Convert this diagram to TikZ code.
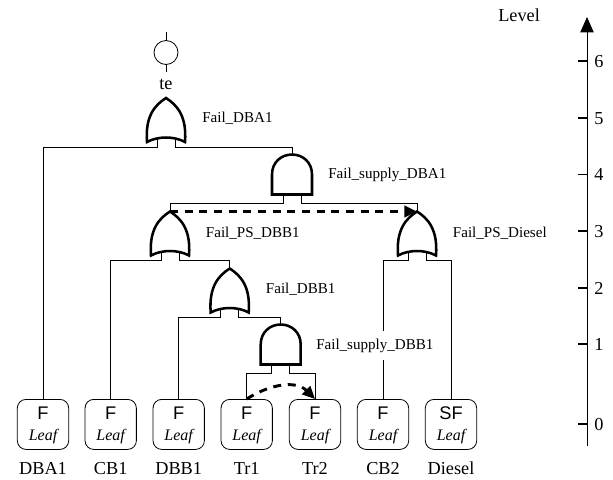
\documentclass[tikz,border=0pt]{standalone}
\usepackage{fontspec}
\setmainfont{Liberation Serif}
\setsansfont{Liberation Sans}
\usetikzlibrary{arrows.meta}
\tikzset{
	gateline/.style={line width=1.9pt},
	wire/.style={line width=0.6pt},
	leafbox/.style={draw,line width=0.6pt,rounded corners=6.5pt,minimum width=38.5pt,minimum height=37.5pt,inner sep=0pt,anchor=north},
	gatename/.style={font=\fontsize{11.3}{13}\selectfont,anchor=base west,fill=white,inner sep=0pt,minimum height=22pt},
	bigtext/.style={font=\fontsize{13.7}{16}\selectfont,inner sep=0pt,anchor=base},
	orgate/.pic={
		\draw[gateline,line join=miter] (0,0) .. controls (-11,7) and (-21,18) .. (-19,44) .. controls (-8,38) and (8,38) .. (19,44) .. controls (21,18) and (11,7) .. cycle;
		\coordinate (-top) at (0,0);
		\coordinate (-l) at (-9,40);
		\coordinate (-r) at (9,40);
	},
	andgate/.pic={
		\draw[gateline] (-20,40) -- (-20,20) .. controls (-20,8) and (-11,0) .. (0,0) .. controls (11,0) and (20,8) .. (20,20) -- (20,40) -- cycle;
		\coordinate (-top) at (0,0);
		\coordinate (-l) at (-9,40);
		\coordinate (-r) at (9,40);
	}
}
\begin{document}
\begin{tikzpicture}[x=0.75pt,y=-0.75pt]
	\useasboundingbox (0,0) rectangle (613,479);
	% top event
	\node[draw,circle,wire,minimum size=18pt,inner sep=0pt] (te) at (166,52.5) {};
	\draw[wire] (te.north) -- ++(0,-8);
	\draw[wire] (te.south) -- ++(0,7);
	\node[bigtext] (tename) at (166,89) {te};
	% gates
	\pic (dba) at (166,98) {orgate};
	\pic (sdba) at (292,154.5) {andgate};
	\pic (psdbb) at (170,211.5) {orgate};
	\pic (pdiesel) at (417,211.5) {orgate};
	\pic (dbb) at (229.7,268.5) {orgate};
	\pic (sdbb) at (280.7,324.5) {andgate};
	% leaves
	\foreach \name/\x/\kind/\text in {dba1/43/F/DBA1,cb1/110.7/F/CB1,dbb1/178.7/F/DBB1,tr1/246.7/F/Tr1,tr2/315/F/Tr2,cb2/383/F/CB2,diesel/451/SF/Diesel}{
		\node[leafbox] (\name) at (\x,399) {};
		\node[font=\sffamily\fontsize{13.7}{16}\selectfont,inner sep=0pt,anchor=base] (\name kind) at (\x,419) {\kind};
		\node[font=\itshape\fontsize{12}{14}\selectfont,inner sep=0pt,anchor=base] (\name type) at (\x,440.5) {Leaf};
		\node[bigtext] (\name text) at (\x,474) {\text};
	}
	% wires
	\draw[wire] (dba-l) -- ++(0,9) -| (dba1.north);
	\draw[wire] (dba-r) -- ++(0,9) -| (sdba-top);
	\draw[wire] (sdba-l) -- ++(0,9) -| (psdbb-top);
	\draw[wire] (sdba-r) -- ++(0,9) -| (pdiesel-top);
	\draw[wire] (psdbb-l) -- ++(0,9) -| (cb1.north);
	\draw[wire] (psdbb-r) -- ++(0,9) -| (dbb-top);
	\draw[wire] (dbb-l) -- ++(0,9) -| (dbb1.north);
	\draw[wire] (dbb-r) -- ++(0,9) -| (sdbb-top);
	\draw[wire] (sdbb-l) -- ++(0,9) -| (tr1.north);
	\draw[wire] (sdbb-r) -- ++(0,9) -| (tr2.north);
	\draw[wire] (pdiesel-l) -- ++(0,9) -| (cb2.north);
	\draw[wire] (pdiesel-r) -- ++(0,9) -| (diesel.north);
	% dependencies
	\draw[line width=2.2pt,dash pattern=on 6pt off 5pt,-{Triangle[length=9.5pt,width=8.5pt]}] (psdbb-top) -- (pdiesel-top);
	\draw[line width=2.2pt,dash pattern=on 6pt off 5pt,-{Triangle[length=9.5pt,width=8.5pt]}] (tr1.north) .. controls (270,384) and (296,380) .. (tr2.north);
	% gate names
	\node[gatename] (ndba) at (202,122.7) {Fail\_DBA1};
	\node[gatename] (nsdba) at (328,178) {Fail\_supply\_DBA1};
	\node[gatename] (npsdbb) at (205.7,237) {Fail\_PS\_DBB1};
	\node[gatename] (npdiesel) at (452.7,237) {Fail\_PS\_Diesel};
	\node[gatename] (ndbb) at (265.7,293) {Fail\_DBB1};
	\node[gatename] (nsdbb) at (316,349) {Fail\_supply\_DBB1};
	% level axis
	\coordinate (axisend) at (587,17);
	\coordinate (axisstart) at (587,446);
	\draw[wire,-{Triangle[length=11.5pt,width=10pt]}] (axisstart) -- (axisend);
	\node[bigtext,anchor=base west] (level) at (498,21.7) {Level};
	\foreach \lev/\y in {0/424,1/344,2/288,3/231,4/174.5,5/118,6/61}{
		\coordinate (tick\lev) at (587,\y);
		\draw[line width=1.1pt] (tick\lev) -- ++(-9,0);
		\node[bigtext,anchor=base west] (lev\lev) at (594,\y+6) {\lev};
	}
\end{tikzpicture}
\end{document}
